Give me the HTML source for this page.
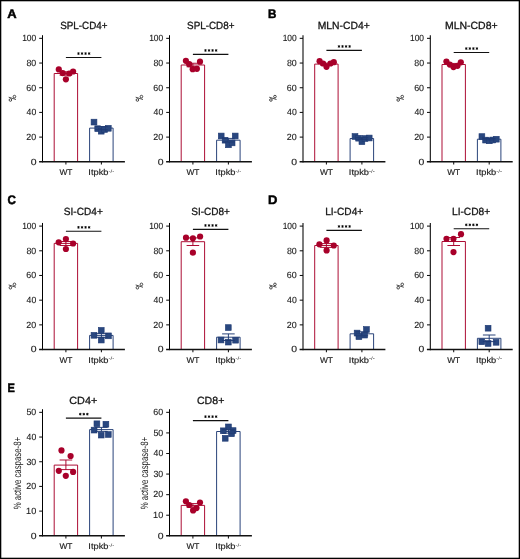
<!DOCTYPE html>
<html><head><meta charset="utf-8"><title>figure</title>
<style>
html,body{margin:0;padding:0;background:#fff;}
body{width:520px;height:559px;overflow:hidden;}
svg{display:block;will-change:transform;}
text{font-family:"Liberation Sans", sans-serif;fill:#1a1a1a;text-rendering:geometricPrecision;}
.t{font-size:10.4px;stroke:#111;stroke-width:0.3px;}
.n{font-size:9px;stroke:#1a1a1a;stroke-width:0.12px;}
.xl{font-size:8.4px;stroke:#1a1a1a;stroke-width:0.15px;}
.sup{font-size:4.8px;}
.yl{font-size:8.7px;}
.yl2{font-size:10.6px;}
.pl{font-size:12.35px;font-weight:bold;fill:#000;stroke:#000;stroke-width:0.5px;}
.ax{stroke:#000;stroke-width:1.05;fill:none;}
.xa{stroke:#111;stroke-width:1.4;fill:none;}
.tk{stroke:#111;stroke-width:1.05;fill:none;}
.rb{stroke:#a8002a;stroke-width:0.95;fill:#fff;}
.bb{stroke:#1f3a73;stroke-width:0.95;fill:#fff;}
.er{stroke:#a8002a;stroke-width:0.95;fill:none;}
.eb{stroke:#1f3a73;stroke-width:0.95;fill:none;}
.dt{fill:#a8002a;}
.sq{fill:#29477f;stroke:#1f3a73;stroke-width:0.6;}
.sg{stroke:#111;stroke-width:1.1;fill:none;}
.pc{stroke:#2a2a2a;stroke-width:0.85;fill:none;}
.st{stroke:#000;stroke-width:0.85;fill:none;}
</style></head>
<body>
<svg width="520" height="559" viewBox="0 0 520 559">
<rect x="0.65" y="0.65" width="518.7" height="557.7" fill="#fff" stroke="#000" stroke-width="1.3"/>
<text x="60.25" y="29.25" class="t" textLength="47.23" lengthAdjust="spacingAndGlyphs">SPL-CD4+</text>
<path d="M42.5 35.2V162.4" class="ax"/>
<text x="30.79" y="164.6" class="n" textLength="5.82" lengthAdjust="spacingAndGlyphs">0</text>
<path d="M39.2 137.11H42.5" class="tk"/>
<text x="26.35" y="139.91" class="n" textLength="9.89" lengthAdjust="spacingAndGlyphs">20</text>
<path d="M39.2 112.42H42.5" class="tk"/>
<text x="26.6" y="115.22" class="n" textLength="9.64" lengthAdjust="spacingAndGlyphs">40</text>
<path d="M39.2 87.73H42.5" class="tk"/>
<text x="26.35" y="90.53" class="n" textLength="9.9" lengthAdjust="spacingAndGlyphs">60</text>
<path d="M39.2 63.04H42.5" class="tk"/>
<text x="26.42" y="65.84" class="n" textLength="9.83" lengthAdjust="spacingAndGlyphs">80</text>
<path d="M39.2 38.35H42.5" class="tk"/>
<text x="22.16" y="41.15" class="n" textLength="14.07" lengthAdjust="spacingAndGlyphs">100</text>
<path d="M65.9 161.8V164.4" class="tk"/>
<path d="M101.4 161.8V164.4" class="tk"/>
<text x="65.9" y="175.25" class="xl" text-anchor="middle">WT</text>
<text x="88.34" y="175.25" class="xl" textLength="20.15" lengthAdjust="spacingAndGlyphs">Itpkb</text>
<text x="108.53" y="172.65" class="sup" textLength="5.74" lengthAdjust="spacingAndGlyphs">-/-</text>
<path d="M54.2 161.8V73.5H77.6V161.8" class="rb"/>
<path d="M89.6 161.8V128.1H113.1V161.8" class="bb"/>
<path d="M39.1 161.8H124.9" class="xa"/>
<circle cx="58.8" cy="69.4" r="3.1" class="dt"/>
<circle cx="62.7" cy="73.1" r="3.1" class="dt"/>
<circle cx="65.9" cy="79.3" r="3.1" class="dt"/>
<circle cx="69.2" cy="73.5" r="3.1" class="dt"/>
<circle cx="73.1" cy="71.5" r="3.1" class="dt"/>
<rect x="91.1" y="119.2" width="5.8" height="5.8" class="sq"/>
<rect x="94.8" y="125.8" width="5.8" height="5.8" class="sq"/>
<rect x="98.3" y="128.3" width="5.8" height="5.8" class="sq"/>
<rect x="101.7" y="126.6" width="5.8" height="5.8" class="sq"/>
<rect x="105.4" y="125.4" width="5.8" height="5.8" class="sq"/>
<path d="M59.6 71.85H72.2M59.6 75.15H72.2M65.9 71.85V75.15" class="er"/>
<path d="M95.1 126.55H107.7M95.1 129.65H107.7M101.4 126.55V129.65" class="eb"/>
<path d="M65.9 57.5H101.4" class="sg"/>
<path d="M78.47 52.25L78.47 54.85M79.6 52.9L77.35 54.2M79.6 54.2L77.35 52.9M82.02 52.25L82.02 54.85M83.15 52.9L80.9 54.2M83.15 54.2L80.9 52.9M85.58 52.25L85.58 54.85M86.7 52.9L84.45 54.2M86.7 54.2L84.45 52.9M89.12 52.25L89.12 54.85M90.25 52.9L88 54.2M90.25 54.2L88 52.9" class="st"/>
<text x="187.05" y="29.25" class="t" textLength="47.43" lengthAdjust="spacingAndGlyphs">SPL-CD8+</text>
<path d="M169.5 35.2V162.4" class="ax"/>
<text x="157.79" y="164.6" class="n" textLength="5.82" lengthAdjust="spacingAndGlyphs">0</text>
<path d="M166.2 137.11H169.5" class="tk"/>
<text x="153.35" y="139.91" class="n" textLength="9.89" lengthAdjust="spacingAndGlyphs">20</text>
<path d="M166.2 112.42H169.5" class="tk"/>
<text x="153.6" y="115.22" class="n" textLength="9.64" lengthAdjust="spacingAndGlyphs">40</text>
<path d="M166.2 87.73H169.5" class="tk"/>
<text x="153.35" y="90.53" class="n" textLength="9.9" lengthAdjust="spacingAndGlyphs">60</text>
<path d="M166.2 63.04H169.5" class="tk"/>
<text x="153.42" y="65.84" class="n" textLength="9.83" lengthAdjust="spacingAndGlyphs">80</text>
<path d="M166.2 38.35H169.5" class="tk"/>
<text x="149.16" y="41.15" class="n" textLength="14.07" lengthAdjust="spacingAndGlyphs">100</text>
<path d="M192.9 161.8V164.4" class="tk"/>
<path d="M228.4 161.8V164.4" class="tk"/>
<text x="192.9" y="175.25" class="xl" text-anchor="middle">WT</text>
<text x="215.34" y="175.25" class="xl" textLength="20.15" lengthAdjust="spacingAndGlyphs">Itpkb</text>
<text x="235.53" y="172.65" class="sup" textLength="5.74" lengthAdjust="spacingAndGlyphs">-/-</text>
<path d="M181.2 161.8V65H204.6V161.8" class="rb"/>
<path d="M216.6 161.8V140.2H240.1V161.8" class="bb"/>
<path d="M166.1 161.8H251.9" class="xa"/>
<circle cx="185.9" cy="60.8" r="3.1" class="dt"/>
<circle cx="189.2" cy="64.2" r="3.1" class="dt"/>
<circle cx="192.7" cy="69.2" r="3.1" class="dt"/>
<circle cx="196.9" cy="68.8" r="3.1" class="dt"/>
<circle cx="200" cy="61.7" r="3.1" class="dt"/>
<rect x="218.3" y="133.1" width="5.8" height="5.8" class="sq"/>
<rect x="222.2" y="137.3" width="5.8" height="5.8" class="sq"/>
<rect x="225.5" y="141.9" width="5.8" height="5.8" class="sq"/>
<rect x="229.2" y="140" width="5.8" height="5.8" class="sq"/>
<rect x="232.3" y="133.1" width="5.8" height="5.8" class="sq"/>
<path d="M186.6 63.25H199.2M186.6 66.75H199.2M192.9 63.25V66.75" class="er"/>
<path d="M222.1 138.42H234.7M222.1 141.98H234.7M228.4 138.42V141.98" class="eb"/>
<path d="M192.9 54.4H228.4" class="sg"/>
<path d="M205.48 49.15L205.48 51.75M206.6 49.8L204.35 51.1M206.6 51.1L204.35 49.8M209.03 49.15L209.03 51.75M210.15 49.8L207.9 51.1M210.15 51.1L207.9 49.8M212.58 49.15L212.58 51.75M213.7 49.8L211.45 51.1M213.7 51.1L211.45 49.8M216.12 49.15L216.12 51.75M217.25 49.8L215 51.1M217.25 51.1L215 49.8" class="st"/>
<text x="317.65" y="29.25" class="t" textLength="52.06" lengthAdjust="spacingAndGlyphs">MLN-CD4+</text>
<path d="M303 35.2V162.4" class="ax"/>
<text x="291.29" y="164.6" class="n" textLength="5.82" lengthAdjust="spacingAndGlyphs">0</text>
<path d="M299.7 137.11H303" class="tk"/>
<text x="286.85" y="139.91" class="n" textLength="9.89" lengthAdjust="spacingAndGlyphs">20</text>
<path d="M299.7 112.42H303" class="tk"/>
<text x="287.1" y="115.22" class="n" textLength="9.64" lengthAdjust="spacingAndGlyphs">40</text>
<path d="M299.7 87.73H303" class="tk"/>
<text x="286.85" y="90.53" class="n" textLength="9.9" lengthAdjust="spacingAndGlyphs">60</text>
<path d="M299.7 63.04H303" class="tk"/>
<text x="286.92" y="65.84" class="n" textLength="9.83" lengthAdjust="spacingAndGlyphs">80</text>
<path d="M299.7 38.35H303" class="tk"/>
<text x="282.66" y="41.15" class="n" textLength="14.07" lengthAdjust="spacingAndGlyphs">100</text>
<path d="M326.4 161.8V164.4" class="tk"/>
<path d="M361.9 161.8V164.4" class="tk"/>
<text x="326.4" y="175.25" class="xl" text-anchor="middle">WT</text>
<text x="348.84" y="175.25" class="xl" textLength="20.15" lengthAdjust="spacingAndGlyphs">Itpkb</text>
<text x="369.03" y="172.65" class="sup" textLength="5.74" lengthAdjust="spacingAndGlyphs">-/-</text>
<path d="M314.7 161.8V64.1H338.1V161.8" class="rb"/>
<path d="M350.1 161.8V138.5H373.6V161.8" class="bb"/>
<path d="M299.6 161.8H385.4" class="xa"/>
<circle cx="319.6" cy="61.2" r="3.1" class="dt"/>
<circle cx="323.1" cy="63.5" r="3.1" class="dt"/>
<circle cx="326.5" cy="66.8" r="3.1" class="dt"/>
<circle cx="330.4" cy="63.5" r="3.1" class="dt"/>
<circle cx="333.8" cy="62.2" r="3.1" class="dt"/>
<rect x="352.1" y="133.6" width="5.8" height="5.8" class="sq"/>
<rect x="355.7" y="135.3" width="5.8" height="5.8" class="sq"/>
<rect x="359" y="138.8" width="5.8" height="5.8" class="sq"/>
<rect x="362.1" y="135.6" width="5.8" height="5.8" class="sq"/>
<rect x="366.3" y="135.1" width="5.8" height="5.8" class="sq"/>
<path d="M320.1 63.16H332.7M320.1 65.04H332.7M326.4 63.16V65.04" class="er"/>
<path d="M355.6 137.65H368.2M355.6 139.35H368.2M361.9 137.65V139.35" class="eb"/>
<path d="M326.4 50.4H361.9" class="sg"/>
<path d="M338.98 45.15L338.98 47.75M340.1 45.8L337.85 47.1M340.1 47.1L337.85 45.8M342.53 45.15L342.53 47.75M343.65 45.8L341.4 47.1M343.65 47.1L341.4 45.8M346.07 45.15L346.07 47.75M347.2 45.8L344.95 47.1M347.2 47.1L344.95 45.8M349.62 45.15L349.62 47.75M350.75 45.8L348.5 47.1M350.75 47.1L348.5 45.8" class="st"/>
<text x="444.94" y="29.25" class="t" textLength="52.68" lengthAdjust="spacingAndGlyphs">MLN-CD8+</text>
<path d="M430.3 35.2V162.4" class="ax"/>
<text x="418.59" y="164.6" class="n" textLength="5.82" lengthAdjust="spacingAndGlyphs">0</text>
<path d="M427 137.11H430.3" class="tk"/>
<text x="414.15" y="139.91" class="n" textLength="9.89" lengthAdjust="spacingAndGlyphs">20</text>
<path d="M427 112.42H430.3" class="tk"/>
<text x="414.4" y="115.22" class="n" textLength="9.64" lengthAdjust="spacingAndGlyphs">40</text>
<path d="M427 87.73H430.3" class="tk"/>
<text x="414.15" y="90.53" class="n" textLength="9.9" lengthAdjust="spacingAndGlyphs">60</text>
<path d="M427 63.04H430.3" class="tk"/>
<text x="414.22" y="65.84" class="n" textLength="9.83" lengthAdjust="spacingAndGlyphs">80</text>
<path d="M427 38.35H430.3" class="tk"/>
<text x="409.96" y="41.15" class="n" textLength="14.07" lengthAdjust="spacingAndGlyphs">100</text>
<path d="M453.7 161.8V164.4" class="tk"/>
<path d="M489.2 161.8V164.4" class="tk"/>
<text x="453.7" y="175.25" class="xl" text-anchor="middle">WT</text>
<text x="476.14" y="175.25" class="xl" textLength="20.15" lengthAdjust="spacingAndGlyphs">Itpkb</text>
<text x="496.33" y="172.65" class="sup" textLength="5.74" lengthAdjust="spacingAndGlyphs">-/-</text>
<path d="M442 161.8V64.5H465.4V161.8" class="rb"/>
<path d="M477.4 161.8V139.2H500.9V161.8" class="bb"/>
<path d="M426.9 161.8H512.7" class="xa"/>
<circle cx="446.4" cy="61.5" r="3.1" class="dt"/>
<circle cx="449.8" cy="64.6" r="3.1" class="dt"/>
<circle cx="453.5" cy="67.1" r="3.1" class="dt"/>
<circle cx="457.5" cy="65.8" r="3.1" class="dt"/>
<circle cx="460.8" cy="62.3" r="3.1" class="dt"/>
<rect x="479" y="133.7" width="5.8" height="5.8" class="sq"/>
<rect x="482.7" y="137.2" width="5.8" height="5.8" class="sq"/>
<rect x="486.4" y="137.9" width="5.8" height="5.8" class="sq"/>
<rect x="489.9" y="137.1" width="5.8" height="5.8" class="sq"/>
<rect x="493.4" y="136.3" width="5.8" height="5.8" class="sq"/>
<path d="M447.4 63.45H460M447.4 65.55H460M453.7 63.45V65.55" class="er"/>
<path d="M482.9 138.47H495.5M482.9 139.93H495.5M489.2 138.47V139.93" class="eb"/>
<path d="M453.7 52.5H489.2" class="sg"/>
<path d="M466.28 47.25L466.28 49.85M467.4 47.9L465.15 49.2M467.4 49.2L465.15 47.9M469.83 47.25L469.83 49.85M470.95 47.9L468.7 49.2M470.95 49.2L468.7 47.9M473.38 47.25L473.38 49.85M474.5 47.9L472.25 49.2M474.5 49.2L472.25 47.9M476.93 47.25L476.93 49.85M478.05 47.9L475.8 49.2M478.05 49.2L475.8 47.9" class="st"/>
<text x="63.74" y="215.45" class="t" textLength="39.06" lengthAdjust="spacingAndGlyphs">SI-CD4+</text>
<path d="M42.5 222.95V350.15" class="ax"/>
<text x="30.79" y="352.35" class="n" textLength="5.82" lengthAdjust="spacingAndGlyphs">0</text>
<path d="M39.2 324.86H42.5" class="tk"/>
<text x="26.35" y="327.66" class="n" textLength="9.89" lengthAdjust="spacingAndGlyphs">20</text>
<path d="M39.2 300.17H42.5" class="tk"/>
<text x="26.6" y="302.97" class="n" textLength="9.64" lengthAdjust="spacingAndGlyphs">40</text>
<path d="M39.2 275.48H42.5" class="tk"/>
<text x="26.35" y="278.28" class="n" textLength="9.9" lengthAdjust="spacingAndGlyphs">60</text>
<path d="M39.2 250.79H42.5" class="tk"/>
<text x="26.42" y="253.59" class="n" textLength="9.83" lengthAdjust="spacingAndGlyphs">80</text>
<path d="M39.2 226.1H42.5" class="tk"/>
<text x="22.16" y="228.9" class="n" textLength="14.07" lengthAdjust="spacingAndGlyphs">100</text>
<path d="M65.9 349.55V352.15" class="tk"/>
<path d="M101.4 349.55V352.15" class="tk"/>
<text x="65.9" y="363" class="xl" text-anchor="middle">WT</text>
<text x="88.34" y="363" class="xl" textLength="20.15" lengthAdjust="spacingAndGlyphs">Itpkb</text>
<text x="108.53" y="360.4" class="sup" textLength="5.74" lengthAdjust="spacingAndGlyphs">-/-</text>
<path d="M54.2 349.55V243.4H77.6V349.55" class="rb"/>
<path d="M89.6 349.55V335.4H113.1V349.55" class="bb"/>
<path d="M39.1 349.55H124.9" class="xa"/>
<circle cx="58.7" cy="242.3" r="3.1" class="dt"/>
<circle cx="65.9" cy="239.1" r="3.1" class="dt"/>
<circle cx="73.1" cy="243.5" r="3.1" class="dt"/>
<circle cx="65.9" cy="249" r="3.1" class="dt"/>
<rect x="91.1" y="332.4" width="5.8" height="5.8" class="sq"/>
<rect x="98.35" y="327.45" width="5.8" height="5.8" class="sq"/>
<rect x="105.55" y="332.95" width="5.8" height="5.8" class="sq"/>
<rect x="98.35" y="337.15" width="5.8" height="5.8" class="sq"/>
<path d="M59.6 241.5H72.2M59.6 245.5H72.2M65.9 241.5V245.5" class="er"/>
<path d="M95.1 333.6H107.7M95.1 337.3H107.7M101.4 333.6V337.3" class="eb"/>
<path d="M65.9 231.3H101.4" class="sg"/>
<path d="M78.47 226.05L78.47 228.65M79.6 226.7L77.35 228M79.6 228L77.35 226.7M82.02 226.05L82.02 228.65M83.15 226.7L80.9 228M83.15 228L80.9 226.7M85.58 226.05L85.58 228.65M86.7 226.7L84.45 228M86.7 228L84.45 226.7M89.12 226.05L89.12 228.65M90.25 226.7L88 228M90.25 228L88 226.7" class="st"/>
<text x="191.25" y="215.45" class="t" textLength="38.65" lengthAdjust="spacingAndGlyphs">SI-CD8+</text>
<path d="M169.5 222.95V350.15" class="ax"/>
<text x="157.79" y="352.35" class="n" textLength="5.82" lengthAdjust="spacingAndGlyphs">0</text>
<path d="M166.2 324.86H169.5" class="tk"/>
<text x="153.35" y="327.66" class="n" textLength="9.89" lengthAdjust="spacingAndGlyphs">20</text>
<path d="M166.2 300.17H169.5" class="tk"/>
<text x="153.6" y="302.97" class="n" textLength="9.64" lengthAdjust="spacingAndGlyphs">40</text>
<path d="M166.2 275.48H169.5" class="tk"/>
<text x="153.35" y="278.28" class="n" textLength="9.9" lengthAdjust="spacingAndGlyphs">60</text>
<path d="M166.2 250.79H169.5" class="tk"/>
<text x="153.42" y="253.59" class="n" textLength="9.83" lengthAdjust="spacingAndGlyphs">80</text>
<path d="M166.2 226.1H169.5" class="tk"/>
<text x="149.16" y="228.9" class="n" textLength="14.07" lengthAdjust="spacingAndGlyphs">100</text>
<path d="M192.9 349.55V352.15" class="tk"/>
<path d="M228.4 349.55V352.15" class="tk"/>
<text x="192.9" y="363" class="xl" text-anchor="middle">WT</text>
<text x="215.34" y="363" class="xl" textLength="20.15" lengthAdjust="spacingAndGlyphs">Itpkb</text>
<text x="235.53" y="360.4" class="sup" textLength="5.74" lengthAdjust="spacingAndGlyphs">-/-</text>
<path d="M181.2 349.55V241.7H204.6V349.55" class="rb"/>
<path d="M216.6 349.55V337.2H240.1V349.55" class="bb"/>
<path d="M166.1 349.55H251.9" class="xa"/>
<circle cx="186" cy="237.7" r="3.1" class="dt"/>
<circle cx="192.9" cy="238.3" r="3.1" class="dt"/>
<circle cx="200.1" cy="236.5" r="3.1" class="dt"/>
<circle cx="192.9" cy="252.7" r="3.1" class="dt"/>
<rect x="225.4" y="324.7" width="5.8" height="5.8" class="sq"/>
<rect x="218.1" y="337.1" width="5.8" height="5.8" class="sq"/>
<rect x="225.4" y="339.2" width="5.8" height="5.8" class="sq"/>
<rect x="232.7" y="337.3" width="5.8" height="5.8" class="sq"/>
<path d="M186.6 237.9H199.2M186.6 245.5H199.2M192.9 237.9V245.5" class="er"/>
<path d="M222.1 333.9H234.7M222.1 340.5H234.7M228.4 333.9V340.5" class="eb"/>
<path d="M192.9 229.4H228.4" class="sg"/>
<path d="M205.48 224.15L205.48 226.75M206.6 224.8L204.35 226.1M206.6 226.1L204.35 224.8M209.03 224.15L209.03 226.75M210.15 224.8L207.9 226.1M210.15 226.1L207.9 224.8M212.58 224.15L212.58 226.75M213.7 224.8L211.45 226.1M213.7 226.1L211.45 224.8M216.12 224.15L216.12 226.75M217.25 224.8L215 226.1M217.25 226.1L215 224.8" class="st"/>
<text x="325.17" y="215.45" class="t" textLength="38.03" lengthAdjust="spacingAndGlyphs">LI-CD4+</text>
<path d="M303 222.95V350.15" class="ax"/>
<text x="291.29" y="352.35" class="n" textLength="5.82" lengthAdjust="spacingAndGlyphs">0</text>
<path d="M299.7 324.86H303" class="tk"/>
<text x="286.85" y="327.66" class="n" textLength="9.89" lengthAdjust="spacingAndGlyphs">20</text>
<path d="M299.7 300.17H303" class="tk"/>
<text x="287.1" y="302.97" class="n" textLength="9.64" lengthAdjust="spacingAndGlyphs">40</text>
<path d="M299.7 275.48H303" class="tk"/>
<text x="286.85" y="278.28" class="n" textLength="9.9" lengthAdjust="spacingAndGlyphs">60</text>
<path d="M299.7 250.79H303" class="tk"/>
<text x="286.92" y="253.59" class="n" textLength="9.83" lengthAdjust="spacingAndGlyphs">80</text>
<path d="M299.7 226.1H303" class="tk"/>
<text x="282.66" y="228.9" class="n" textLength="14.07" lengthAdjust="spacingAndGlyphs">100</text>
<path d="M326.4 349.55V352.15" class="tk"/>
<path d="M361.9 349.55V352.15" class="tk"/>
<text x="326.4" y="363" class="xl" text-anchor="middle">WT</text>
<text x="348.84" y="363" class="xl" textLength="20.15" lengthAdjust="spacingAndGlyphs">Itpkb</text>
<text x="369.03" y="360.4" class="sup" textLength="5.74" lengthAdjust="spacingAndGlyphs">-/-</text>
<path d="M314.7 349.55V245.5H338.1V349.55" class="rb"/>
<path d="M350.1 349.55V333.8H373.6V349.55" class="bb"/>
<path d="M299.6 349.55H385.4" class="xa"/>
<circle cx="319.4" cy="244.3" r="3.1" class="dt"/>
<circle cx="326.6" cy="240.4" r="3.1" class="dt"/>
<circle cx="333.8" cy="245.5" r="3.1" class="dt"/>
<circle cx="326.6" cy="250.4" r="3.1" class="dt"/>
<rect x="354.2" y="330.15" width="5.8" height="5.8" class="sq"/>
<rect x="356" y="333.8" width="5.8" height="5.8" class="sq"/>
<rect x="361.7" y="332.2" width="5.8" height="5.8" class="sq"/>
<rect x="363.5" y="326.6" width="5.8" height="5.8" class="sq"/>
<path d="M320.1 243.6H332.7M320.1 247.4H332.7M326.4 243.6V247.4" class="er"/>
<path d="M355.6 331.8H368.2M355.6 335.8H368.2M361.9 331.8V335.8" class="eb"/>
<path d="M326.4 230.4H361.9" class="sg"/>
<path d="M338.98 225.15L338.98 227.75M340.1 225.8L337.85 227.1M340.1 227.1L337.85 225.8M342.53 225.15L342.53 227.75M343.65 225.8L341.4 227.1M343.65 227.1L341.4 225.8M346.07 225.15L346.07 227.75M347.2 225.8L344.95 227.1M347.2 227.1L344.95 225.8M349.62 225.15L349.62 227.75M350.75 225.8L348.5 227.1M350.75 227.1L348.5 225.8" class="st"/>
<text x="451.96" y="215.45" class="t" textLength="38.29" lengthAdjust="spacingAndGlyphs">LI-CD8+</text>
<path d="M430.3 222.95V350.15" class="ax"/>
<text x="418.59" y="352.35" class="n" textLength="5.82" lengthAdjust="spacingAndGlyphs">0</text>
<path d="M427 324.86H430.3" class="tk"/>
<text x="414.15" y="327.66" class="n" textLength="9.89" lengthAdjust="spacingAndGlyphs">20</text>
<path d="M427 300.17H430.3" class="tk"/>
<text x="414.4" y="302.97" class="n" textLength="9.64" lengthAdjust="spacingAndGlyphs">40</text>
<path d="M427 275.48H430.3" class="tk"/>
<text x="414.15" y="278.28" class="n" textLength="9.9" lengthAdjust="spacingAndGlyphs">60</text>
<path d="M427 250.79H430.3" class="tk"/>
<text x="414.22" y="253.59" class="n" textLength="9.83" lengthAdjust="spacingAndGlyphs">80</text>
<path d="M427 226.1H430.3" class="tk"/>
<text x="409.96" y="228.9" class="n" textLength="14.07" lengthAdjust="spacingAndGlyphs">100</text>
<path d="M453.7 349.55V352.15" class="tk"/>
<path d="M489.2 349.55V352.15" class="tk"/>
<text x="453.7" y="363" class="xl" text-anchor="middle">WT</text>
<text x="476.14" y="363" class="xl" textLength="20.15" lengthAdjust="spacingAndGlyphs">Itpkb</text>
<text x="496.33" y="360.4" class="sup" textLength="5.74" lengthAdjust="spacingAndGlyphs">-/-</text>
<path d="M442 349.55V241.5H465.4V349.55" class="rb"/>
<path d="M477.4 349.55V338.3H500.9V349.55" class="bb"/>
<path d="M426.9 349.55H512.7" class="xa"/>
<circle cx="446.5" cy="238.8" r="3.1" class="dt"/>
<circle cx="453.5" cy="238.8" r="3.1" class="dt"/>
<circle cx="461" cy="234.2" r="3.1" class="dt"/>
<circle cx="453.5" cy="252.1" r="3.1" class="dt"/>
<rect x="485.2" y="325.3" width="5.8" height="5.8" class="sq"/>
<rect x="478.9" y="338.9" width="5.8" height="5.8" class="sq"/>
<rect x="485.2" y="340.6" width="5.8" height="5.8" class="sq"/>
<rect x="493.2" y="339.4" width="5.8" height="5.8" class="sq"/>
<path d="M447.4 237.5H460M447.4 245.5H460M453.7 237.5V245.5" class="er"/>
<path d="M482.9 335H495.5M482.9 341.6H495.5M489.2 335V341.6" class="eb"/>
<path d="M453.7 228.8H489.2" class="sg"/>
<path d="M466.28 223.55L466.28 226.15M467.4 224.2L465.15 225.5M467.4 225.5L465.15 224.2M469.83 223.55L469.83 226.15M470.95 224.2L468.7 225.5M470.95 225.5L468.7 224.2M473.38 223.55L473.38 226.15M474.5 224.2L472.25 225.5M474.5 225.5L472.25 224.2M476.93 223.55L476.93 226.15M478.05 224.2L475.8 225.5M478.05 225.5L475.8 224.2" class="st"/>
<text x="69.25" y="403.65" class="t" textLength="27.98" lengthAdjust="spacingAndGlyphs">CD4+</text>
<path d="M42.5 409.2V536.4" class="ax"/>
<text x="30.79" y="538.6" class="n" textLength="5.82" lengthAdjust="spacingAndGlyphs">0</text>
<path d="M39.2 511.11H42.5" class="tk"/>
<text x="26.1" y="513.91" class="n" textLength="10.15" lengthAdjust="spacingAndGlyphs">10</text>
<path d="M39.2 486.42H42.5" class="tk"/>
<text x="26.35" y="489.22" class="n" textLength="9.89" lengthAdjust="spacingAndGlyphs">20</text>
<path d="M39.2 461.73H42.5" class="tk"/>
<text x="26.47" y="464.53" class="n" textLength="9.78" lengthAdjust="spacingAndGlyphs">30</text>
<path d="M39.2 437.04H42.5" class="tk"/>
<text x="26.6" y="439.84" class="n" textLength="9.64" lengthAdjust="spacingAndGlyphs">40</text>
<path d="M39.2 412.35H42.5" class="tk"/>
<text x="26.45" y="415.15" class="n" textLength="9.8" lengthAdjust="spacingAndGlyphs">50</text>
<path d="M65.9 535.8V538.4" class="tk"/>
<path d="M101.4 535.8V538.4" class="tk"/>
<text x="65.9" y="549.25" class="xl" text-anchor="middle">WT</text>
<text x="88.34" y="549.25" class="xl" textLength="20.15" lengthAdjust="spacingAndGlyphs">Itpkb</text>
<text x="108.53" y="546.65" class="sup" textLength="5.74" lengthAdjust="spacingAndGlyphs">-/-</text>
<path d="M54.2 535.8V465.1H77.6V535.8" class="rb"/>
<path d="M89.6 535.8V429.6H113.1V535.8" class="bb"/>
<path d="M39.1 535.8H124.9" class="xa"/>
<circle cx="61.5" cy="450.4" r="3.1" class="dt"/>
<circle cx="70.6" cy="456" r="3.1" class="dt"/>
<circle cx="58.8" cy="470.8" r="3.1" class="dt"/>
<circle cx="65.8" cy="475.8" r="3.1" class="dt"/>
<circle cx="73.1" cy="471.9" r="3.1" class="dt"/>
<rect x="94" y="420.9" width="5.8" height="5.8" class="sq"/>
<rect x="103" y="421.3" width="5.8" height="5.8" class="sq"/>
<rect x="91.2" y="427.2" width="5.8" height="5.8" class="sq"/>
<rect x="98.3" y="432.2" width="5.8" height="5.8" class="sq"/>
<rect x="105.4" y="431.6" width="5.8" height="5.8" class="sq"/>
<path d="M59.6 460H72.2M59.6 469.6H72.2M65.9 460V469.6" class="er"/>
<path d="M95.1 427.4H107.7M95.1 431.4H107.7M101.4 427.4V431.4" class="eb"/>
<path d="M65.9 418.1H101.4" class="sg"/>
<path d="M80.25 412.85L80.25 415.45M81.38 413.5L79.12 414.8M81.38 414.8L79.12 413.5M83.8 412.85L83.8 415.45M84.93 413.5L82.67 414.8M84.93 414.8L82.67 413.5M87.35 412.85L87.35 415.45M88.48 413.5L86.22 414.8M88.48 414.8L86.22 413.5" class="st"/>
<text x="196.96" y="403.65" class="t" textLength="27.36" lengthAdjust="spacingAndGlyphs">CD8+</text>
<path d="M169.5 409.2V536.4" class="ax"/>
<text x="157.79" y="538.6" class="n" textLength="5.82" lengthAdjust="spacingAndGlyphs">0</text>
<path d="M166.2 515.22H169.5" class="tk"/>
<text x="153.1" y="518.02" class="n" textLength="10.15" lengthAdjust="spacingAndGlyphs">10</text>
<path d="M166.2 494.65H169.5" class="tk"/>
<text x="153.35" y="497.45" class="n" textLength="9.89" lengthAdjust="spacingAndGlyphs">20</text>
<path d="M166.2 474.07H169.5" class="tk"/>
<text x="153.47" y="476.87" class="n" textLength="9.78" lengthAdjust="spacingAndGlyphs">30</text>
<path d="M166.2 453.5H169.5" class="tk"/>
<text x="153.6" y="456.3" class="n" textLength="9.64" lengthAdjust="spacingAndGlyphs">40</text>
<path d="M166.2 432.92H169.5" class="tk"/>
<text x="153.45" y="435.72" class="n" textLength="9.8" lengthAdjust="spacingAndGlyphs">50</text>
<path d="M166.2 412.35H169.5" class="tk"/>
<text x="153.35" y="415.15" class="n" textLength="9.9" lengthAdjust="spacingAndGlyphs">60</text>
<path d="M192.9 535.8V538.4" class="tk"/>
<path d="M228.4 535.8V538.4" class="tk"/>
<text x="192.9" y="549.25" class="xl" text-anchor="middle">WT</text>
<text x="215.34" y="549.25" class="xl" textLength="20.15" lengthAdjust="spacingAndGlyphs">Itpkb</text>
<text x="235.53" y="546.65" class="sup" textLength="5.74" lengthAdjust="spacingAndGlyphs">-/-</text>
<path d="M181.2 535.8V505.4H204.6V535.8" class="rb"/>
<path d="M216.6 535.8V431.5H240.1V535.8" class="bb"/>
<path d="M166.1 535.8H251.9" class="xa"/>
<circle cx="185.9" cy="501.3" r="3.1" class="dt"/>
<circle cx="189.2" cy="505" r="3.1" class="dt"/>
<circle cx="193.1" cy="510.4" r="3.1" class="dt"/>
<circle cx="196.5" cy="508.1" r="3.1" class="dt"/>
<circle cx="200" cy="502.5" r="3.1" class="dt"/>
<rect x="225.5" y="424" width="5.8" height="5.8" class="sq"/>
<rect x="220.4" y="427.9" width="5.8" height="5.8" class="sq"/>
<rect x="230.2" y="427.7" width="5.8" height="5.8" class="sq"/>
<rect x="228.6" y="430.9" width="5.8" height="5.8" class="sq"/>
<rect x="222.3" y="435.4" width="5.8" height="5.8" class="sq"/>
<path d="M186.6 503.6H199.2M186.6 507.2H199.2M192.9 503.6V507.2" class="er"/>
<path d="M222.1 429.8H234.7M222.1 433.2H234.7M228.4 429.8V433.2" class="eb"/>
<path d="M192.9 420.6H228.4" class="sg"/>
<path d="M205.48 415.35L205.48 417.95M206.6 416L204.35 417.3M206.6 417.3L204.35 416M209.03 415.35L209.03 417.95M210.15 416L207.9 417.3M210.15 417.3L207.9 416M212.58 415.35L212.58 417.95M213.7 416L211.45 417.3M213.7 417.3L211.45 416M216.12 415.35L216.12 417.95M217.25 416L215 417.3M217.25 417.3L215 416" class="st"/>
<circle cx="10.4" cy="100" r="1.3" class="pc"/>
<circle cx="14.45" cy="96.6" r="1.3" class="pc"/>
<path d="M8.7 97.2L16 99.5" class="pc"/>
<circle cx="137.4" cy="100" r="1.3" class="pc"/>
<circle cx="141.45" cy="96.6" r="1.3" class="pc"/>
<path d="M135.7 97.2L143 99.5" class="pc"/>
<circle cx="270.9" cy="100" r="1.3" class="pc"/>
<circle cx="274.95" cy="96.6" r="1.3" class="pc"/>
<path d="M269.2 97.2L276.5 99.5" class="pc"/>
<circle cx="398.2" cy="100" r="1.3" class="pc"/>
<circle cx="402.25" cy="96.6" r="1.3" class="pc"/>
<path d="M396.5 97.2L403.8 99.5" class="pc"/>
<circle cx="10.4" cy="287.75" r="1.3" class="pc"/>
<circle cx="14.45" cy="284.35" r="1.3" class="pc"/>
<path d="M8.7 284.95L16 287.25" class="pc"/>
<circle cx="137.4" cy="287.75" r="1.3" class="pc"/>
<circle cx="141.45" cy="284.35" r="1.3" class="pc"/>
<path d="M135.7 284.95L143 287.25" class="pc"/>
<circle cx="270.9" cy="287.75" r="1.3" class="pc"/>
<circle cx="274.95" cy="284.35" r="1.3" class="pc"/>
<path d="M269.2 284.95L276.5 287.25" class="pc"/>
<circle cx="398.2" cy="287.75" r="1.3" class="pc"/>
<circle cx="402.25" cy="284.35" r="1.3" class="pc"/>
<path d="M396.5 284.95L403.8 287.25" class="pc"/>
<text transform="translate(21 0) rotate(-90)" x="-509.28" y="0" class="yl2" textLength="72.36" lengthAdjust="spacingAndGlyphs">% active caspase-8+</text>
<text transform="translate(148 0) rotate(-90)" x="-509.28" y="0" class="yl2" textLength="72.36" lengthAdjust="spacingAndGlyphs">% active caspase-8+</text>
<text x="7.23" y="17.7" class="pl" textLength="9.36" lengthAdjust="spacingAndGlyphs">A</text>
<text x="268.07" y="17.7" class="pl" textLength="8.41" lengthAdjust="spacingAndGlyphs">B</text>
<text x="7.47" y="203.9" class="pl" textLength="8.39" lengthAdjust="spacingAndGlyphs">C</text>
<text x="267.98" y="203.9" class="pl" textLength="9.42" lengthAdjust="spacingAndGlyphs">D</text>
<text x="7.61" y="392" class="pl" textLength="7.37" lengthAdjust="spacingAndGlyphs">E</text>
</svg>
</body></html>
